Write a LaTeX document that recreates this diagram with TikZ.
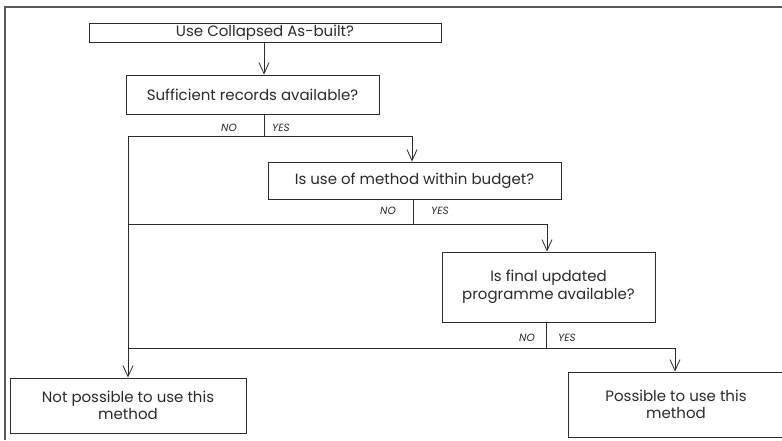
\documentclass[tikz,border=0pt]{standalone}
\usepackage{fontspec}
\setmainfont{Poppins}
\usetikzlibrary{arrows.meta}
\definecolor{ink}{HTML}{2A2A2A}
\tikzset{
  box/.style={draw=ink, line width=0.9pt, rectangle, inner sep=0pt, align=center, text=ink, font=\fontsize{15}{17.5}\selectfont},
  conn/.style={draw=ink, line width=0.9pt},
  arr/.style={conn, -{Straight Barb[length=11pt,width=10pt,line width=0.8pt]}},
  lbl/.style={text=ink, font=\fontsize{10.5}{12}\selectfont\itshape, inner sep=0pt},
  frame/.style={draw=black!65, line width=1.4pt}
}
\begin{document}
\begin{tikzpicture}[x=1pt,y=-1pt]
\useasboundingbox (0,0) rectangle (782,440);
% outer frame (top and left edges only)
\draw[frame] (5,440) -- (5,7) -- (782,7);
% boxes
\node[box, minimum width=352pt, minimum height=19pt] (b1) at (265,32.5) {Use Collapsed As-built?};
\node[box, minimum width=253pt, minimum height=39pt] (b2) at (252.5,94.5) {Sufficient records available?};
\node[box, minimum width=293pt, minimum height=37pt] (b3) at (414.5,180.5) {Is use of method within budget?};
\node[box, minimum width=213pt, minimum height=70pt] (b4) at (548.5,287) {Is final updated\\programme available?};
\node[box, minimum width=236pt, minimum height=55pt] (b5) at (128,405.5) {Not possible to use this\\method};
\node[box, minimum width=216pt, minimum height=65pt] (b6) at (676,404.5) {Possible to use this\\method};
% junction coordinates
\coordinate (j1) at (264,136);
\coordinate (j1L) at (128,136);
\coordinate (j1R) at (412,136);
\coordinate (j2) at (413,224);
\coordinate (j2L) at (128,224);
\coordinate (j2R) at (547,224);
\coordinate (j3) at (546,348);
\coordinate (j3L) at (128,348);
\coordinate (j3R) at (675,348);
% connectors
\draw[arr] (b1.south -| j1) -- (b2.north -| j1);
\draw[conn] (b2.south -| j1) -- (j1);
\draw[conn] (j1L) -- (j1R);
\draw[arr] (j1R) -- (j1R |- b3.north);
\draw[conn] (b3.south -| j2) -- (j2);
\draw[conn] (j2L) -- (j2R);
\draw[arr] (j2R) -- (j2R |- b4.north);
\draw[conn] (b4.south -| j3) -- (j3);
\draw[conn] (j3L) -- (j3R);
\draw[arr] (j3R) -- (j3R |- b6.north);
\draw[arr] (j1L) -- (j1L |- b5.north);
% labels
\node[lbl] (no1) at (229,128) {NO};
\node[lbl] (yes1) at (281,128) {YES};
\node[lbl] (no2) at (388,211) {NO};
\node[lbl] (yes2) at (440,211) {YES};
\node[lbl] (no3) at (527,338) {NO};
\node[lbl] (yes3) at (567,338) {YES};
\end{tikzpicture}
\end{document}
